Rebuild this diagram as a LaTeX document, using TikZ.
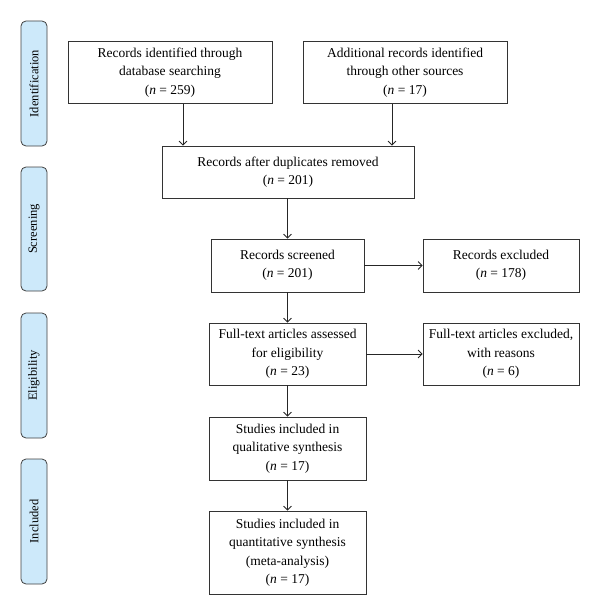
\documentclass[tikz,border=0pt]{standalone}
\usepackage{fontspec}
\setmainfont{Liberation Serif}
\usetikzlibrary{arrows.meta}
\newcommand{\nn}{\textit{n}}
\begin{document}
\begin{tikzpicture}[x=1pt,y=1pt,
  box/.style={draw=black!80, line width=0.8pt, align=center, inner sep=0pt,
    font=\fontsize{13.5}{18.5}\selectfont},
  phase/.style={draw=black!75, line width=0.8pt, fill=phasefill, rounded corners=5pt,
    minimum width=26pt, inner sep=0pt},
  plabel/.style={rotate=90, font=\fontsize{12.5}{15}\selectfont},
  arr/.style={draw=black!85, line width=0.8pt, -{Straight Barb[length=4pt,width=8pt]}}]
\definecolor{phasefill}{HTML}{CDE9FA}
\useasboundingbox (0,0) rectangle (600,-615);
% phase labels
\node[phase, minimum height=125pt] (pid) at (34,-83.5) {};
\node[plabel] (tid) at (pid) {Identification};
\node[phase, minimum height=124pt] (psc) at (34,-229) {};
\node[plabel] (tsc) at (psc) {Screening};
\node[phase, minimum height=125pt] (pel) at (34,-375.5) {};
\node[plabel] (tel) at (pel) {Eligibility};
\node[phase, minimum height=125pt] (pin) at (34,-521.5) {};
\node[plabel] (tin) at (pin) {Included};
% boxes
\node[box, minimum width=204pt, minimum height=62pt] (b1) at (170,-72.5)
  {Records identified through\\database searching\\(\nn{} = 259)};
\node[box, minimum width=204pt, minimum height=62pt] (b2) at (405,-72.5)
  {Additional records identified\\through other sources\\(\nn{} = 17)};
\node[box, minimum width=252pt, minimum height=52pt] (b3) at (288,-172)
  {Records after duplicates removed\\(\nn{} = 201)};
\node[box, minimum width=153pt, minimum height=53pt] (b4) at (287.5,-265.5)
  {Records screened\\(\nn{} = 201)};
\node[box, minimum width=156pt, minimum height=53pt] (b5) at (501,-265.5)
  {Records excluded\\(\nn{} = 178)};
\node[box, minimum width=157pt, minimum height=62pt] (b6) at (287.5,-354)
  {Full-text articles assessed\\for eligibility\\(\nn{} = 23)};
\node[box, minimum width=156pt, minimum height=62pt] (b7) at (501,-354)
  {Full-text articles excluded,\\with reasons\\(\nn{} = 6)};
\node[box, minimum width=157pt, minimum height=63pt] (b8) at (287.5,-448.5)
  {Studies included in\\qualitative synthesis\\(\nn{} = 17)};
\node[box, minimum width=157pt, minimum height=83pt] (b9) at (287.5,-552.5)
  {Studies included in\\quantitative synthesis\\(meta-analysis)\\(\nn{} = 17)};
% arrows
\draw[arr] ([xshift=13pt]b1.south) -- ([xshift=13pt]b1.south |- b3.north);
\draw[arr] ([xshift=-13pt]b2.south) -- ([xshift=-13pt]b2.south |- b3.north);
\draw[arr] (b3.south -| b4.north) -- (b4.north);
\draw[arr] (b4.east) -- (b5.west);
\draw[arr] (b4.south) -- (b6.north);
\draw[arr] (b6.east) -- (b7.west);
\draw[arr] (b6.south) -- (b8.north);
\draw[arr] (b8.south) -- (b9.north);
\end{tikzpicture}
\end{document}
